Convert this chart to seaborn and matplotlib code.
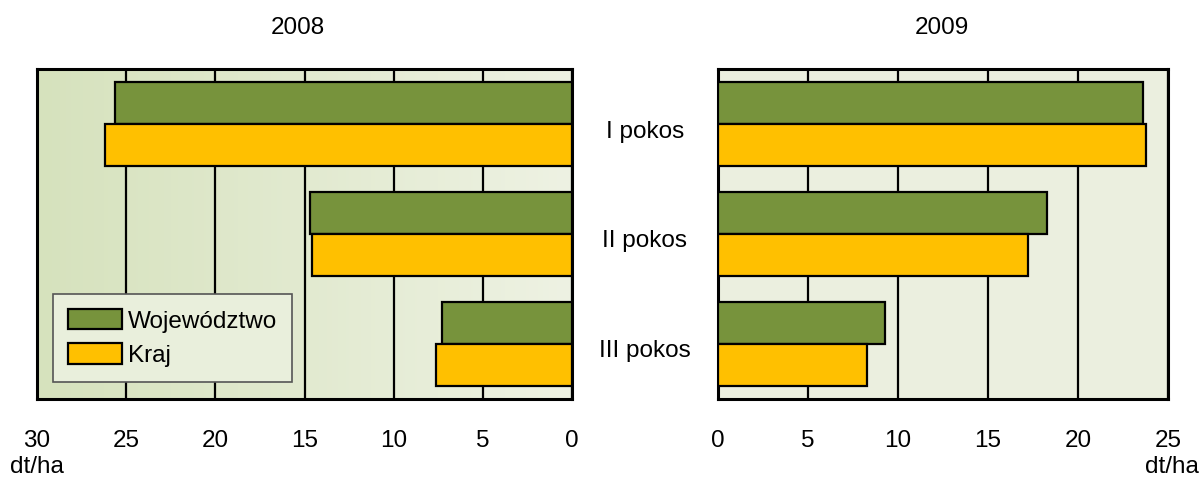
import numpy as np
import pandas as pd
import seaborn as sns
import matplotlib.pyplot as plt
from matplotlib.colors import LinearSegmentedColormap

# data (dt/ha)
pokosy = ["I pokos", "II pokos", "III pokos"]
series = ["Województwo", "Kraj"]
woj_2008 = [25.6, 14.7, 7.3]
kraj_2008 = [26.2, 14.6, 7.6]
woj_2009 = [23.6, 18.3, 9.3]
kraj_2009 = [23.8, 17.2, 8.3]

ticks_2008 = [30, 25, 20, 15, 10, 5, 0]
ticks_2009 = [0, 5, 10, 15, 20, 25]

GREEN = "#77933C"
YELLOW = "#FFC000"
FS = 17.5


def frame(woj, kraj):
    return pd.DataFrame({
        "pokos": pokosy * 2,
        "seria": [series[0]] * 3 + [series[1]] * 3,
        "wartosc": woj + kraj,
    })


sns.set_style("white")
plt.rcParams["font.family"] = ["Liberation Sans", "DejaVu Sans"]
plt.rcParams["text.color"] = "black"
plt.rcParams["xtick.color"] = "black"

fig = plt.figure(figsize=(12.01, 4.79), dpi=100)
ax1 = fig.add_axes([37 / 1201, 1 - 399 / 479, 535 / 1201, 330 / 479])
ax2 = fig.add_axes([718 / 1201, 1 - 399 / 479, 450 / 1201, 330 / 479])

for ax, df, ticks, lim in [
    (ax1, frame(woj_2008, kraj_2008), ticks_2008, (30, 0)),
    (ax2, frame(woj_2009, kraj_2009), ticks_2009, (0, 25)),
]:
    sns.barplot(
        data=df, y="pokos", x="wartosc", hue="seria", orient="h",
        palette=[GREEN, YELLOW], width=0.77, gap=0,
        edgecolor="black", linewidth=1.6, saturation=1,
        ax=ax, legend=(ax is ax1), zorder=3,
    )
    ax.set_xlim(*lim)
    ax.set_ylim(2.5, -0.5)
    ax.set_xticks(ticks)
    ax.set_xticklabels([str(t) for t in ticks])
    ax.tick_params(axis="x", length=0, pad=22, labelsize=FS, labelcolor="black")
    ax.set_yticks([])
    ax.set_xlabel("")
    ax.set_ylabel("")
    for t in ticks:
        ax.axvline(t, color="black", linewidth=1.6, zorder=1)
    for sp in ax.spines.values():
        sp.set_visible(True)
        sp.set_color("black")
        sp.set_linewidth(2.2)

# backgrounds: gradient on the left panel, flat on the right
grad_cmap = LinearSegmentedColormap.from_list("g", ["#d6e2bd", "#eef2e3"])
ax1.imshow(np.linspace(0, 1, 256).reshape(1, -1), cmap=grad_cmap,
           extent=[30, 0, 2.5, -0.5], aspect="auto", zorder=0)
ax1.set_xlim(30, 0)
ax1.set_ylim(2.5, -0.5)
ax2.set_facecolor("#ebefdf")

fig.text(298 / 1201, 1 - 28 / 479, "2008", ha="center", va="center", fontsize=FS)
fig.text(942 / 1201, 1 - 28 / 479, "2009", ha="center", va="center", fontsize=FS)

for i, name in enumerate(pokosy):
    fig.text(645 / 1201, 1 - (132 + 109.5 * i) / 479, name,
             ha="center", va="center", fontsize=FS)

fig.text(37 / 1201, 1 - 467 / 479, "dt/ha", ha="center", va="center", fontsize=FS)
fig.text(1172 / 1201, 1 - 467 / 479, "dt/ha", ha="center", va="center", fontsize=FS)

leg = ax1.legend(
    loc="upper left", bbox_to_anchor=((53 - 37) / 535, (399 - 294) / 330),
    fontsize=FS, frameon=True, fancybox=False, handlelength=2.2, handleheight=0.9,
    handletextpad=0.25, borderpad=0.62, borderaxespad=0, labelspacing=0.45,
)
leg.get_frame().set_facecolor("#e9efdc")
leg.get_frame().set_edgecolor("#555555")
leg.get_frame().set_linewidth(1.2)
leg.get_frame().set_alpha(1)
leg.set_zorder(5)

fig.savefig("out.png", dpi=100)
